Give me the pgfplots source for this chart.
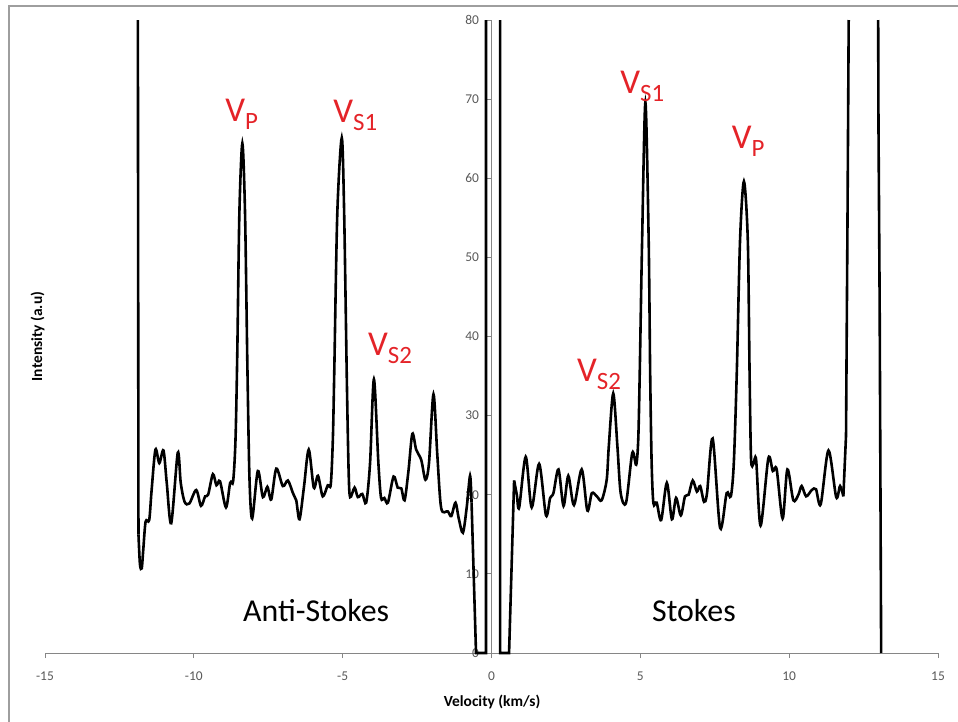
\documentclass[border=0pt]{standalone}
\usepackage{pgfplots}
\pgfplotsset{compat=1.18}
\usepackage{fontspec}
\setmainfont{Carlito}
\definecolor{axgray}{RGB}{134,134,134}
\definecolor{lblgray}{RGB}{89,89,89}
\definecolor{vred}{RGB}{228,35,40}
\newcommand{\vlab}[1]{{\fontsize{35}{35}\selectfont V}\raisebox{-8bp}{\fontsize{25}{25}\selectfont #1}}
\begin{document}
\begin{tikzpicture}
\useasboundingbox (-45bp,-69bp) rectangle (913bp,653bp);
\draw[color=axgray!80, line width=1.2bp] (-36bp,-69bp) -- (-36bp,647bp) -- (913bp,647bp);
\begin{axis}[
  scale only axis, width=893bp, height=633bp,
  xmin=-15, xmax=15, ymin=0, ymax=80,
  axis lines=middle,
  axis line style={-, color=axgray, line width=1bp},
  hide obscured x ticks=false, hide obscured y ticks=false,
  xtick={-15,-10,...,15}, ytick={0,10,...,80},
  tick style={color=axgray, line width=1bp},
  tick align=outside, major tick length=5bp,
  ticklabel style={font=\fontsize{13.5}{14}\selectfont, color=lblgray},
  /pgf/number format/assume math mode=true,
  xticklabel style={yshift=-10bp},
  yticklabel style={xshift=-4bp},
  clip=false,
]
% Anti-Stokes
\addplot[black, line width=2.6bp, sharp plot] coordinates {(-11.88,80) (-11.86,15)};
\addplot[black, line width=2.6bp, smooth] coordinates {
(-11.86,15) (-11.81,11.2) (-11.75,10.7) (-11.70,13.0) (-11.62,16.6) (-11.50,16.8) (-11.42,20.5)
(-11.29,25.7) (-11.16,24.0) (-11.02,25.6) (-10.91,21.5) (-10.76,16.4) (-10.54,25.3) (-10.44,21.5)
(-10.31,19.1) (-10.15,18.9) (-9.92,20.6) (-9.76,18.6) (-9.62,19.8) (-9.52,20.0) (-9.36,22.6)
(-9.24,21.2) (-9.12,21.7) (-8.92,18.4) (-8.78,21.5) (-8.68,21.7) (-8.60,27) (-8.54,38)
(-8.47,55.6) (-8.37,64.4) (-8.28,55.6) (-8.20,36) (-8.13,22) (-8.04,17.0) (-7.85,23.0)
(-7.68,19.7) (-7.53,21.0) (-7.40,19.4) (-7.23,23.3) (-7.01,21.1) (-6.84,21.8) (-6.67,20.2)
(-6.56,19.3) (-6.45,16.9) (-6.30,21) (-6.14,25.7) (-5.97,20.9) (-5.83,22.4) (-5.67,19.8)
(-5.50,21.2) (-5.40,21.3) (-5.33,27) (-5.28,36) (-5.18,55.6) (-5.03,65.1) (-4.95,55.6)
(-4.86,34.5) (-4.80,23) (-4.75,19.7) (-4.60,20.9) (-4.49,19.7) (-4.34,20.1) (-4.21,19.0)
(-4.08,24.0) (-3.95,34.6) (-3.80,24.0) (-3.71,19.6) (-3.60,19.6) (-3.48,19.0) (-3.29,22.3)
(-3.15,20.9) (-3.03,20.8) (-2.92,19.3) (-2.79,23) (-2.66,27.7) (-2.53,25.7) (-2.36,24.4)
(-2.22,21.9) (-2.10,24) (-1.95,32.7) (-1.82,25) (-1.69,18.3) (-1.47,17.9) (-1.35,17.3)
(-1.21,19.0) (-1.10,17) (-0.96,15.2) (-0.83,18.5) (-0.72,22.4) (-0.67,19)};
\addplot[black, line width=2.6bp, sharp plot] coordinates {(-0.67,19) (-0.52,0) (-0.185,0) (-0.185,80)};
% Stokes
\addplot[black, line width=2.6bp, sharp plot] coordinates {(0.29,80) (0.29,0) (0.59,0) (0.76,21.8)};
\addplot[black, line width=2.6bp, smooth] coordinates {
(0.76,21.8) (0.85,20) (0.93,18.4) (1.15,24.8) (1.35,18.4) (1.60,23.9) (1.83,17.4) (1.97,19.6)
(2.08,20.2) (2.25,23.2) (2.42,18.6) (2.58,22.4) (2.77,18.7) (3.03,23.2) (3.22,18.0) (3.37,20.2)
(3.54,19.8) (3.70,19.3) (3.87,21.9) (3.94,26.1) (4.09,32.8) (4.23,26.1) (4.34,20.2) (4.52,19.0)
(4.73,25.3) (4.86,23.8) (4.93,27) (4.98,35.4) (5.06,52.2) (5.17,69.6) (5.28,52.2) (5.33,35.4)
(5.38,24) (5.44,18.9) (5.55,19.0) (5.70,16.8) (5.89,21.5) (6.06,16.9) (6.20,19.6) (6.36,17.4)
(6.50,19.8) (6.62,20.0) (6.76,21.8) (6.90,20.4) (7.01,21.1) (7.14,19.1) (7.24,20.2) (7.43,27.1)
(7.68,15.8) (7.90,20.2) (8.04,19.8) (8.14,24) (8.24,35.4) (8.35,52.2) (8.48,59.6) (8.61,52.2)
(8.67,35.4) (8.72,24.5) (8.80,23.9) (8.89,24.4) (9.04,16.1) (9.30,24.6) (9.45,23.0) (9.58,23.2)
(9.78,17.0) (9.94,23.2) (10.14,19.3) (10.31,20.0) (10.42,21.1) (10.57,19.8) (10.76,20.6)
(10.90,20.7) (11.06,18.8) (11.32,25.6) (11.58,19.7) (11.71,21.1) (11.82,19.8)};
\addplot[black, line width=2.6bp, sharp plot] coordinates {(11.82,19.8) (11.91,27.5) (11.96,55) (12.0,80)};
\addplot[black, line width=2.6bp, sharp plot] coordinates {(12.99,80) (13.0,67) (13.04,44) (13.09,0)};
% labels
\node[anchor=base west, inner sep=0pt, text=vred] at (axis cs:-8.95,67.15) {\vlab{P}};
\node[anchor=base west, inner sep=0pt, text=vred] at (axis cs:-5.32,67.1) {\vlab{S1}};
\node[anchor=base west, inner sep=0pt, text=vred] at (axis cs:-4.15,37.66) {\vlab{S2}};
\node[anchor=base west, inner sep=0pt, text=vred] at (axis cs:4.32,70.74) {\vlab{S1}};
\node[anchor=base west, inner sep=0pt, text=vred] at (axis cs:8.07,63.79) {\vlab{P}};
\node[anchor=base west, inner sep=0pt, text=vred] at (axis cs:2.87,34.25) {\vlab{S2}};
\node[anchor=base west, inner sep=0pt, font=\fontsize{32}{32}\selectfont] at (axis cs:-8.35,3.92) {Anti-Stokes};
\node[anchor=base west, inner sep=0pt, font=\fontsize{32}{32}\selectfont] at (axis cs:5.39,3.92) {Stokes};
\node[anchor=center, inner sep=0pt, font=\fontsize{15.5}{16}\selectfont\bfseries] at (axis cs:0.02,-6.2) {Velocity (km/s)};
\node[anchor=center, inner sep=0pt, rotate=90, font=\fontsize{15.5}{16}\selectfont\bfseries] at (axis cs:-15.25,40) {Intensity (a.u)};
\end{axis}
\end{tikzpicture}
\end{document}
